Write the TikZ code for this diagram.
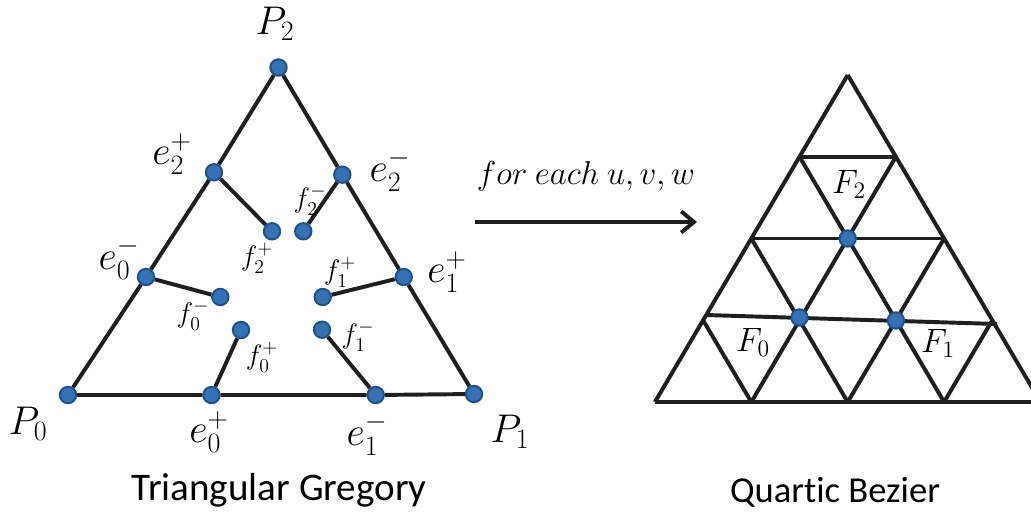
\RequirePackage{fix-cm}
\documentclass[tikz,border=0pt]{standalone}
\usepackage[no-math]{fontspec}
\setmainfont[Ligatures=NoCommon]{Carlito}
\usepackage{amsmath}
\usetikzlibrary{arrows.meta}
\definecolor{ptblue}{RGB}{52,114,181}
\definecolor{ptedge}{RGB}{30,80,140}

\begin{document}
\begin{tikzpicture}[
    x=0.025cm, y=-0.025cm,
    cp/.style={circle, fill=ptblue, draw=ptedge, line width=1.4pt, minimum size=0.41cm, inner sep=0pt},
    lab/.style={font=\fontsize{28.5}{31}\selectfont, inner sep=0pt},
    flab/.style={font=\fontsize{20}{23}\selectfont, inner sep=0pt},
    Flab/.style={font=\fontsize{24}{27}\selectfont, inner sep=0pt},
    title/.style={font=\fontsize{26}{30}\selectfont, inner sep=0pt, anchor=base},
    edge/.style={line width=2.8pt, draw=black!88},
    arr/.style={-{Straight Barb[length=9pt,width=15pt]}, line width=2.8pt, draw=black!88}
  ]
  \useasboundingbox (0,0) rectangle (1031,512);

  % triangular Gregory patch
  \node[cp] (p0) at (68,395) {};
  \node[cp] (p1) at (474,394) {};
  \node[cp] (p2) at (278.5,67.5) {};
  \node[cp] (e0p) at (211.5,395) {};
  \node[cp] (e1m) at (375.7,395) {};
  \node[cp] (e0m) at (146,277) {};
  \node[cp] (e2p) at (214,172.3) {};
  \node[cp] (e1p) at (403.7,277) {};
  \node[cp] (e2m) at (342.3,174.7) {};
  \node[cp] (f2p) at (272,231.3) {};
  \node[cp] (f2m) at (303.3,231.3) {};
  \node[cp] (f0m) at (220.3,297) {};
  \node[cp] (f1p) at (322.7,297) {};
  \node[cp] (f0p) at (241,330) {};
  \node[cp] (f1m) at (322,329.7) {};

  \draw[edge] (p0) -- (e0p) -- (e1m) -- (p1);
  \draw[edge] (p0) -- (e0m) -- (e2p) -- (p2);
  \draw[edge] (p1) -- (e1p) -- (e2m) -- (p2);
  \draw[edge] (e2p) -- (f2p);
  \draw[edge] (e2m) -- (f2m);
  \draw[edge] (e0m) -- (f0m);
  \draw[edge] (e1p) -- (f1p);
  \draw[edge] (e0p) -- (f0p);
  \draw[edge] (e1m) -- (f1m);

  \node[lab] (lp2) at (275,24) {$P_2$};
  \node[lab] (lp0) at (28,424) {$P_0$};
  \node[lab] (lp1) at (510,432) {$P_1$};
  \node[lab] (le2p) at (172,154) {$e_2^+$};
  \node[lab] (le2m) at (390,170) {$e_2^-$};
  \node[lab] (le0m) at (119,258) {$e_0^-$};
  \node[lab] (le1p) at (447,272) {$e_1^+$};
  \node[lab] (le0p) at (209,432) {$e_0^+$};
  \node[lab] (le1m) at (367,434) {$e_1^-$};
  \node[flab] (lf2m) at (310,200) {$f_2^-$};
  \node[flab] (lf2p) at (257,258) {$f_2^+$};
  \node[flab] (lf1p) at (340,272) {$f_1^+$};
  \node[flab] (lf0m) at (193,315) {$f_0^-$};
  \node[flab] (lf0p) at (262,357) {$f_0^+$};
  \node[flab] (lf1m) at (358,336) {$f_1^-$};
  \node[title, font=\fontsize{27.8}{31}\selectfont] (tg) at (279,500) {Triangular Gregory};

  % arrow between the two patches
  \coordinate (a0) at (475,222);
  \coordinate (a1) at (697,222);
  \draw[arr] (a0) -- (a1);
  \node[font=\fontsize{23.5}{26}\selectfont, inner sep=0pt] (each) at (586,176) {$for\ each\ u,v,w$};

  % quartic Bezier net, 4 rows
  \foreach \r in {1,2,4}
    \draw[edge] ({847.7-48.2*\r},{75+81.75*\r}) -- ({847.7+48.2*\r},{75+81.75*\r});
  \draw[edge] (706,315) -- (997,324);
  \foreach \j in {0,...,3}{
    \draw[edge] ({847.7+48.2*\j},{75+81.75*\j}) -- ({847.7+48.2*(2*\j-4)},402);
    \draw[edge] ({847.7-48.2*\j},{75+81.75*\j}) -- ({847.7+48.2*(4-2*\j)},402);
  }
  \node[cp] (g2) at (847.7,238.5) {};
  \node[cp] (g0) at (799.5,317.5) {};
  \node[cp] (g1) at (895.9,320.5) {};
  \node[Flab] (lF2) at (849,184) {$F_2$};
  \node[Flab] (lF0) at (753,342) {$F_0$};
  \node[Flab] (lF1) at (938,343) {$F_1$};
  \node[title] (qb) at (835,502) {Quartic Bezier};
\end{tikzpicture}
\end{document}
